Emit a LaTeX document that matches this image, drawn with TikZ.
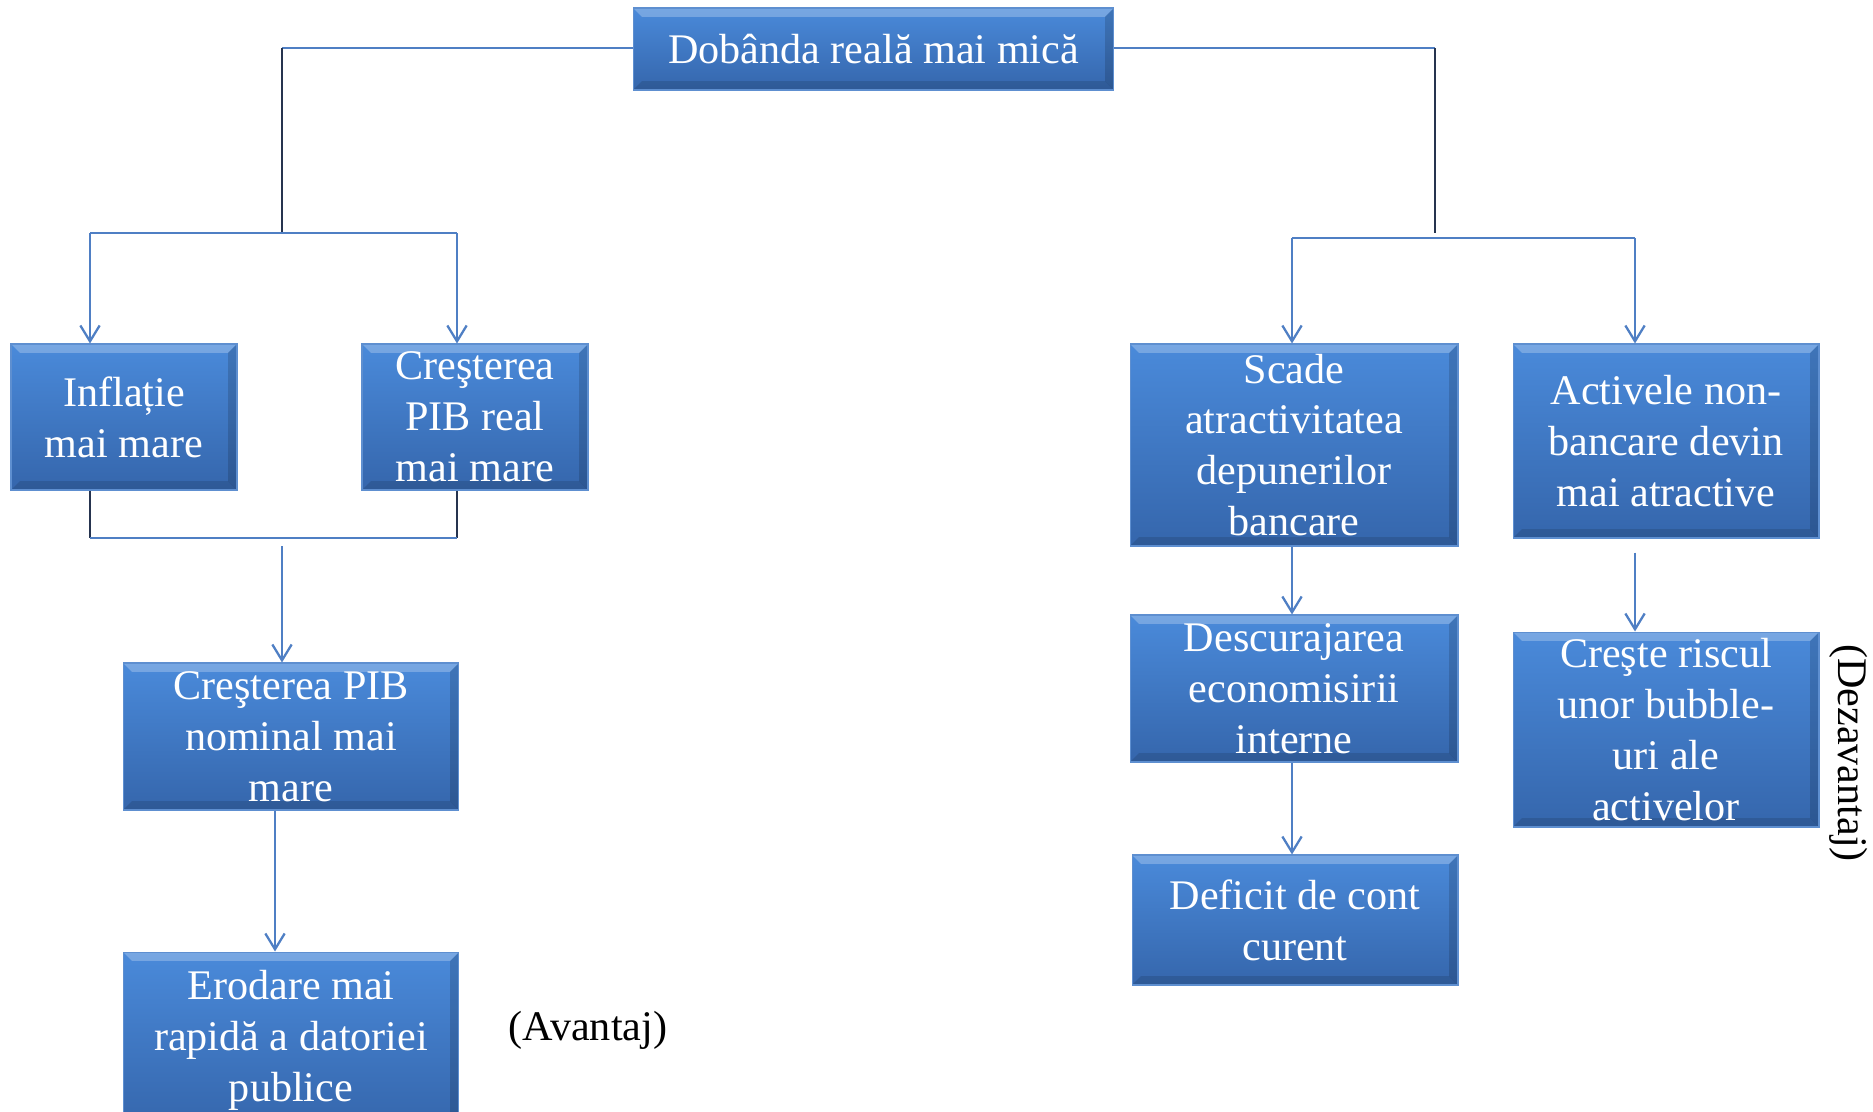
\documentclass[tikz,border=0pt]{standalone}
\usepackage{fontspec}
\setmainfont{Liberation Serif}
\usepackage{xcolor}
\usetikzlibrary{positioning,calc,arrows.meta}

\definecolor{boxtop}{HTML}{4A8ADA}
\definecolor{boxbot}{HTML}{3566AC}
\definecolor{boxedge}{HTML}{5E8FD0}
\definecolor{linkblue}{HTML}{4F7FC4}
\definecolor{linkdark}{HTML}{26344F}

\tikzset{
  stage/.style={rectangle, top color=boxtop, bottom color=boxbot, draw=boxedge,
    line width=0.6pt, text=white, align=center, inner sep=0pt,
    font=\fontsize{24}{29}\selectfont,
    path picture={
      \fill[white,opacity=.25] (path picture bounding box.north west) -- (path picture bounding box.north east)
        -- ([xshift=-5pt,yshift=-5pt]path picture bounding box.north east) -- ([xshift=5pt,yshift=-5pt]path picture bounding box.north west) -- cycle;
      \fill[black,opacity=.15] (path picture bounding box.north east) -- (path picture bounding box.south east)
        -- ([xshift=-5pt,yshift=5pt]path picture bounding box.south east) -- ([xshift=-5pt,yshift=-5pt]path picture bounding box.north east) -- cycle;
      \fill[black,opacity=.12] (path picture bounding box.south west) -- (path picture bounding box.south east)
        -- ([xshift=-5pt,yshift=5pt]path picture bounding box.south east) -- ([xshift=5pt,yshift=5pt]path picture bounding box.south west) -- cycle;
    }},
  link/.style={draw=linkblue, line width=1.3pt},
  stem/.style={draw=linkdark, line width=1.3pt},
  flow/.style={link, -{Straight Barb[length=9pt,width=11pt]}},
  remark/.style={font=\fontsize{24}{29}\selectfont}
}

\begin{document}
\begin{tikzpicture}[x=0.02cm, y=-0.02cm]
  \useasboundingbox (0,0) rectangle (1873,1112);

  % boxes
  \node[stage, minimum width=9.62cm, minimum height=1.64cm] (top) at (873.5,49) {Dobânda reală mai mică};

  \node[stage, minimum width=4.52cm, minimum height=2.92cm] (infl) at (124,417) {Inflație\\mai mare};
  \node[stage, minimum width=4.52cm, minimum height=2.92cm] (pibreal) at (475,417) {Creşterea\\PIB real\\mai mare};
  \node[stage, minimum width=6.72cm, minimum height=2.94cm] (pibnom) at (291,736.5) {Creşterea PIB\\nominal mai\\mare};
  \node[stage, minimum width=6.72cm, minimum height=3.52cm] (erod) at (291,1040) {Erodare mai\\rapidă a datoriei\\publice};

  \node[stage, minimum width=6.56cm, minimum height=4.04cm] (scade) at (1294,445) {Scade\\atractivitatea\\depunerilor\\bancare};
  \node[stage, minimum width=6.12cm, minimum height=3.88cm] (activ) at (1666,441) {Activele non-\\bancare devin\\mai atractive};
  \node[stage, minimum width=6.56cm, minimum height=2.94cm] (descur) at (1294,688.5) {Descurajarea\\economisirii\\interne};
  \node[stage, minimum width=6.52cm, minimum height=2.60cm] (deficit) at (1295,920) {Deficit de cont\\curent};
  \node[stage, minimum width=6.12cm, minimum height=3.90cm] (creste) at (1666,729.5) {Creşte riscul\\unor bubble-\\uri ale\\activelor};

  \node[remark] (avantaj) at (588,1030) {(Avantaj)};
  \node[remark, rotate=-90] (dezavantaj) at (1849,753) {(Dezavantaj)};

  % split points
  \coordinate (lturn) at (282,48);
  \coordinate (lsplit) at (282,233);
  \coordinate (ljoin) at (282,546);
  \coordinate (rturn) at (1435,48);
  \coordinate (rsplit) at (1435,233);

  % left branch
  \draw[link] (top.west |- lturn) -- (lturn);
  \draw[stem] (lturn) -- (lsplit);
  \draw[link] (90,233) -- (457,233);
  \draw[flow] (90,233) -- (90,0 |- infl.north);
  \draw[flow] (457,233) -- (457,0 |- pibreal.north);
  \draw[stem] (90,0 |- infl.south) -- (90,538);
  \draw[stem] (457,0 |- pibreal.south) -- (457,538);
  \draw[link] (90,538) -- (457,538);
  \draw[flow] (ljoin) -- (ljoin |- pibnom.north);
  \draw[flow] (275,0 |- pibnom.south) -- (275,0 |- erod.north);

  % right branch
  \draw[link] (top.east |- rturn) -- (rturn);
  \draw[stem] (rturn) -- (rsplit);
  \draw[link] (1292,238) -- (1635,238);
  \draw[flow] (1292,238) -- (1292,0 |- scade.north);
  \draw[flow] (1635,238) -- (1635,0 |- activ.north);
  \draw[flow] (1292,0 |- scade.south) -- (1292,0 |- descur.north);
  \draw[flow] (1292,0 |- descur.south) -- (1292,0 |- deficit.north);
  \draw[flow, shorten <=8pt] (1635,0 |- activ.south) -- (1635,0 |- creste.north);
\end{tikzpicture}
\end{document}
